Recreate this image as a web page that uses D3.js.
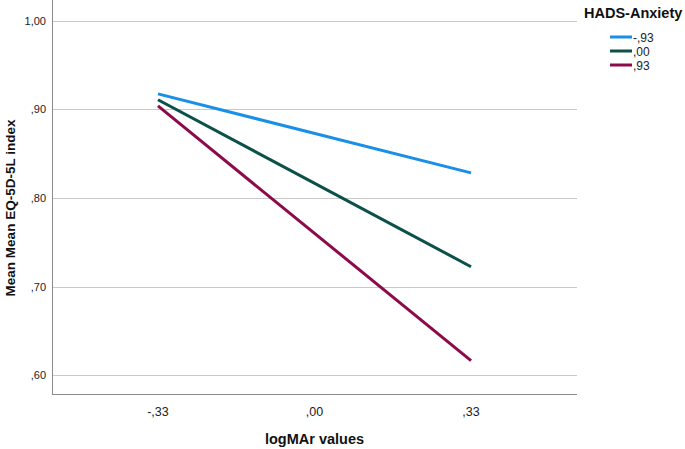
<!DOCTYPE html>
<html><head><meta charset="utf-8">
<script src="https://cdn.jsdelivr.net/npm/d3@7"></script>
<style>body{margin:0;background:#fff;}text{font-family:"Liberation Sans",Arial,sans-serif;}</style>
</head><body><svg id="c" width="685" height="449"></svg>
<script>
const categories = ["-,33", ",00", ",33"];
const seriesNames = ["-,93", ",00", ",93"];
const seriesColors = ["#1a8fe6", "#0b5049", "#8c0a4a"];
const valuesNeg93 = [0.9176, 0.8284];
const values00 = [0.9110, 0.7224];
const values93 = [0.9040, 0.6163];
const xPositions = ["-,33", ",33"];
const yTicks = [0.6, 0.7, 0.8, 0.9, 1.0];
const yTickLabels = [",60", ",70", ",80", ",90", "1,00"];

(function () {
const series = [valuesNeg93, values00, values93];
const svg = d3.select("#c");
const pL = 52, pR = 577, pT = 0, pB = 394;
const x = d3.scalePoint().domain(categories).range([pL, pR]).padding(0.677);
const y = d3.scaleLinear().domain([0.5786, 1.0237]).range([pB, pT]);

svg.append("g").selectAll("line").data(yTicks).join("line")
  .attr("x1", pL).attr("x2", pR)
  .attr("y1", d => Math.round(y(d)) + 0.5).attr("y2", d => Math.round(y(d)) + 0.5)
  .attr("stroke", "#c9c9c9").attr("stroke-width", 1);

svg.append("line").attr("x1", pL + 0.5).attr("x2", pL + 0.5).attr("y1", pT).attr("y2", pB)
  .attr("stroke", "#8c8c8c").attr("stroke-width", 1);
svg.append("line").attr("x1", pL).attr("x2", pR).attr("y1", pB + 0.5).attr("y2", pB + 0.5)
  .attr("stroke", "#8c8c8c").attr("stroke-width", 1);

svg.append("g").selectAll("text").data(yTicks).join("text")
  .attr("x", pL - 6).attr("y", d => y(d) + 4)
  .attr("text-anchor", "end").attr("font-size", 11).attr("fill", "#222")
  .text((d, i) => yTickLabels[i]);

svg.append("g").selectAll("text").data(categories).join("text")
  .attr("x", d => x(d)).attr("y", 416)
  .attr("text-anchor", "middle").attr("font-size", 12.5).attr("fill", "#222")
  .text(d => d);

svg.append("text").attr("x", x(",00")).attr("y", 444).attr("text-anchor", "middle")
  .attr("font-size", 14.5).attr("font-weight", "bold").attr("fill", "#111").text("logMAr values");
svg.append("text").attr("transform", "translate(15,208) rotate(-90)").attr("text-anchor", "middle")
  .attr("font-size", 13.5).attr("font-weight", "bold").attr("fill", "#111").text("Mean Mean EQ-5D-5L index");

const line = d3.line().x((d, i) => x(xPositions[i])).y(d => y(d));
svg.append("g").selectAll("path").data(series).join("path")
  .attr("d", d => line(d)).attr("fill", "none")
  .attr("stroke", (d, i) => seriesColors[i]).attr("stroke-width", 3);

svg.append("text").attr("x", 584).attr("y", 18).attr("font-size", 14.5).attr("font-weight", "bold")
  .attr("fill", "#111").text("HADS-Anxiety");
const lg = svg.append("g").selectAll("g").data(seriesNames).join("g")
  .attr("transform", (d, i) => `translate(0,${37 + i * 14})`);
lg.append("line").attr("x1", 610).attr("x2", 632).attr("y1", 0).attr("y2", 0)
  .attr("stroke", (d, i) => seriesColors[i]).attr("stroke-width", 3);
lg.append("text").attr("x", 633).attr("y", 4.5).attr("font-size", 12).attr("fill", "#222").text(d => d);
})();
</script></body></html>
